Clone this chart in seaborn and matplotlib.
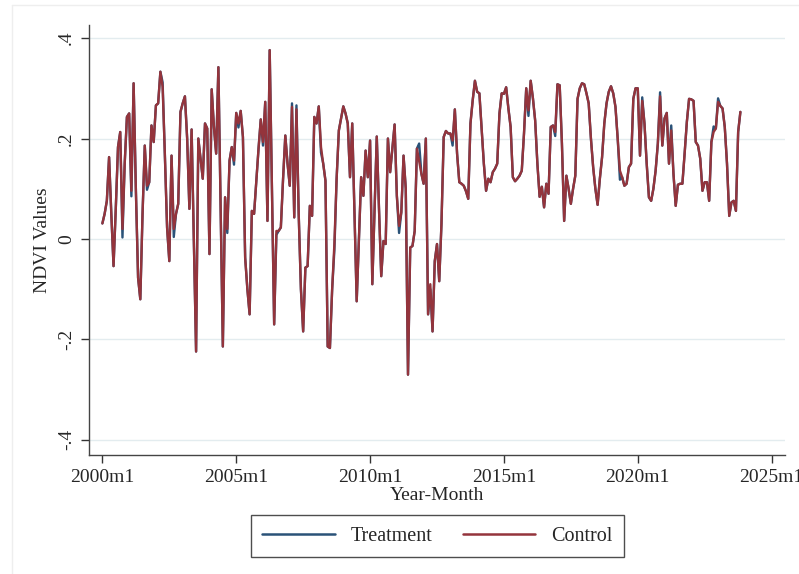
import numpy as np
import pandas as pd
import matplotlib
matplotlib.use("Agg")
import matplotlib.pyplot as plt
import seaborn as sns
from matplotlib.lines import Line2D

# ---------------- data (monthly, 2000m1 .. 2023m11) ----------------
control = [
    0.031, 0.05, 0.076, 0.163, 0.05, -0.054, 0.06, 0.183, 0.213, 0.02,   # 0-9
    0.15, 0.243, 0.25, 0.096, 0.31, 0.10, -0.077, -0.12, 0.05, 0.186,     # 10-19
    0.106, 0.113, 0.226, 0.193, 0.266, 0.27, 0.333, 0.303, 0.17, 0.023,   # 20-29
    -0.044, 0.166, 0.02, 0.05, 0.07, 0.253, 0.27, 0.284, 0.20, 0.06,      # 30-39
    0.218, 0.0, -0.224, 0.20, 0.16, 0.12, 0.23, 0.22, -0.03, 0.298,       # 40-49
    0.223, 0.17, 0.342, 0.06, -0.214, 0.083, 0.02, 0.156, 0.183, 0.156,   # 50-59
    0.251, 0.23, 0.255, 0.203, -0.037, -0.10, -0.15, 0.056, 0.05, 0.116,  # 60-69
    0.18, 0.238, 0.193, 0.273, 0.036, 0.376, 0.10, -0.17, 0.016, 0.016,  # 70-79
    0.023, 0.12, 0.206, 0.15, 0.106, 0.263, 0.043, 0.258, 0.05, -0.10,    # 80-89
    -0.184, -0.057, -0.054, 0.066, 0.046, 0.243, 0.23, 0.264, 0.183, 0.15,  # 90-99
    0.116, -0.214, -0.217, -0.10, -0.01, 0.12, 0.216, 0.24, 0.264, 0.25,  # 100-109
    0.23, 0.123, 0.23, 0.05, -0.124, 0.0, 0.123, 0.086, 0.176, 0.123,     # 110-119
    0.196, -0.09, 0.06, 0.204, 0.06, -0.074, -0.004, -0.01, 0.20, 0.133,  # 120-129
    0.18, 0.228, 0.086, 0.026, 0.053, 0.166, 0.10, -0.27, -0.017, -0.014, # 130-139
    0.016, 0.18, 0.155, 0.13, 0.11, 0.20, -0.15, -0.09, -0.184, -0.044,   # 140-149
    -0.01, -0.084, 0.03, 0.203, 0.215, 0.21, 0.21, 0.196, 0.258, 0.17,    # 150-159
    0.113, 0.11, 0.106, 0.095, 0.08, 0.23, 0.276, 0.315, 0.293, 0.29,     # 160-169
    0.22, 0.15, 0.096, 0.12, 0.113, 0.133, 0.14, 0.15, 0.25, 0.29,        # 170-179
    0.289, 0.302, 0.26, 0.223, 0.123, 0.115, 0.12, 0.126, 0.136, 0.21,    # 180-189
    0.30, 0.256, 0.315, 0.28, 0.236, 0.15, 0.084, 0.104, 0.063, 0.11,     # 190-199
    0.09, 0.223, 0.226, 0.213, 0.308, 0.306, 0.19, 0.036, 0.126, 0.10,    # 200-209
    0.07, 0.10, 0.126, 0.279, 0.30, 0.31, 0.308, 0.29, 0.27, 0.20,        # 210-219
    0.143, 0.10, 0.068, 0.12, 0.163, 0.23, 0.27, 0.293, 0.304, 0.29,      # 220-229
    0.263, 0.20, 0.136, 0.123, 0.106, 0.11, 0.143, 0.15, 0.279, 0.30,     # 230-239
    0.30, 0.166, 0.275, 0.23, 0.15, 0.083, 0.076, 0.10, 0.136, 0.19,      # 240-249
    0.284, 0.186, 0.24, 0.251, 0.15, 0.216, 0.13, 0.066, 0.108, 0.11,     # 250-259
    0.11, 0.17, 0.233, 0.279, 0.278, 0.275, 0.193, 0.186, 0.16, 0.096,    # 260-269
    0.113, 0.113, 0.076, 0.193, 0.213, 0.22, 0.273, 0.265, 0.26, 0.223,   # 270-279
    0.15, 0.046, 0.073, 0.076, 0.056, 0.213, 0.253,                       # 280-286
]

# months where the treatment series visibly departs from control
treatment_diff_month = [9, 13, 20, 27, 32, 56, 59, 61, 72, 78, 85, 87, 98, 104,
                        133, 142, 147, 157, 191, 203, 232, 242, 250, 255, 274, 276]
treatment_diff_value = [0.003, 0.085, 0.098, 0.312, 0.004, 0.012, 0.148, 0.222, 0.186,
                        0.008, 0.270, 0.266, 0.172, -0.022, 0.012, 0.190, -0.100,
                        0.186, 0.245, 0.205, 0.118, 0.282, 0.292, 0.226, 0.224, 0.280]

treatment = list(control)
for m, v in zip(treatment_diff_month, treatment_diff_value):
    treatment[m] = v

n = len(control)
months = np.arange(n)
xtick_pos = [0, 60, 120, 180, 240, 300]
xtick_labels = ["2000m1", "2005m1", "2010m1", "2015m1", "2020m1", "2025m1"]
ytick_pos = [-0.4, -0.2, 0.0, 0.2, 0.4]
ytick_labels = ["-.4", "-.2", "0", ".2", ".4"]

df = pd.DataFrame({
    "month": np.concatenate([months, months]),
    "ndvi": np.concatenate([treatment, control]),
    "group": ["Treatment"] * n + ["Control"] * n,
})

# ---------------- style ----------------
sns.set_style("white")
plt.rcParams["font.family"] = ["Liberation Serif", "DejaVu Serif"]

navy = "#2a5278"
maroon = "#94343c"

fig = plt.figure(figsize=(7.99, 5.74), dpi=100)
ax = fig.add_axes([89 / 799, 1 - 455 / 574, (785 - 89) / 799, (455 - 25) / 574])

sns.lineplot(data=df, x="month", y="ndvi", hue="group",
             palette={"Treatment": navy, "Control": maroon},
             hue_order=["Treatment", "Control"], linewidth=1.7,
             legend=False, ax=ax, estimator=None)

ax.set_xlim(-6, 306)
ax.set_ylim(-0.43, 0.426)

for yv in ytick_pos:
    ax.axhline(yv, color="#e3ecef", linewidth=1.0, zorder=0)

ax.set_xticks(xtick_pos)
ax.set_xticklabels(xtick_labels, fontsize=14)
ax.set_yticks(ytick_pos)
ax.set_yticklabels(ytick_labels, fontsize=14, rotation=90, va="center")
ax.tick_params(axis="both", direction="out", length=6, width=1.0, color="#333333",
               bottom=True, left=True, pad=4)

ax.set_xlabel("Year-Month", fontsize=14, labelpad=1)
ax.set_ylabel("NDVI Values", fontsize=14, labelpad=5)

for s in ["top", "right"]:
    ax.spines[s].set_visible(False)
for s in ["left", "bottom"]:
    ax.spines[s].set_color("#444444")
    ax.spines[s].set_linewidth(1.0)

handles = [Line2D([0], [0], color=navy, lw=1.8),
           Line2D([0], [0], color=maroon, lw=1.8)]
leg = fig.legend(handles, ["Treatment", "Control"], loc="center",
                 bbox_to_anchor=(437.5 / 799, 1 - 536 / 574), ncol=2,
                 fontsize=14.5, frameon=True, fancybox=False, handlelength=3.6,
                 columnspacing=1.5, borderpad=0.55, handletextpad=0.8)
leg.get_frame().set_edgecolor("#222222")
leg.get_frame().set_linewidth(1.0)

# faint outer graph-region edge
fig.add_artist(Line2D([12 / 799, 12 / 799], [1 - 5 / 574, 0], color="#eeeeee", lw=1.0))
fig.add_artist(Line2D([12 / 799, 1], [1 - 5 / 574, 1 - 5 / 574], color="#eeeeee", lw=1.0))

fig.savefig("out.png", dpi=100)
